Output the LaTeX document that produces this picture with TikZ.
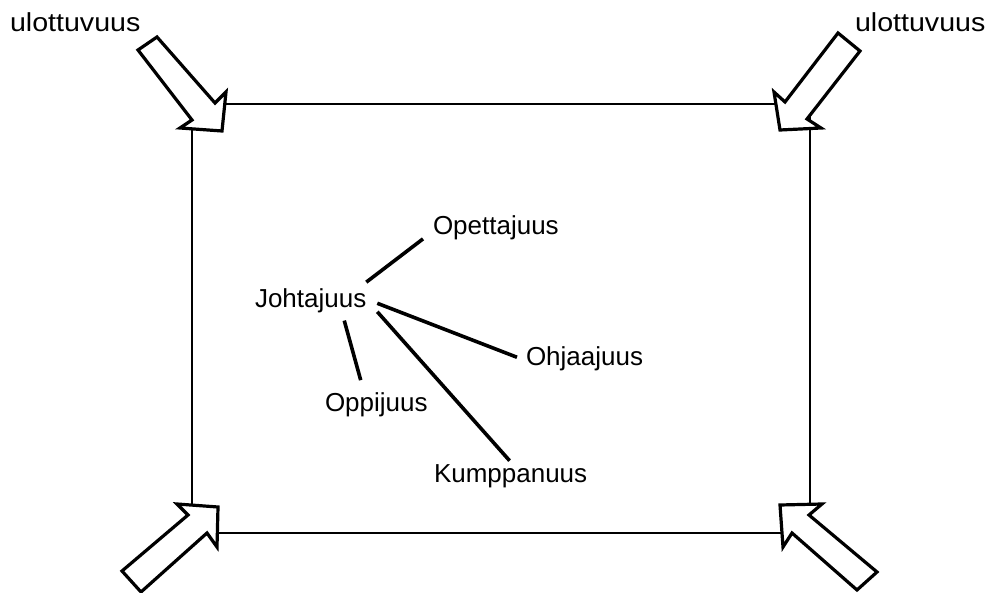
\documentclass[tikz,border=0pt]{standalone}
\usepackage{fontspec}
\setmainfont{Liberation Sans}
\tikzset{
  lbl/.style={inner sep=0pt, outer sep=0pt, anchor=base west, font=\fontsize{26}{30}\selectfont},
  frame/.style={draw=black, line width=2.2pt},
  bigarrow/.style={draw=black, fill=white, line width=3.2pt, line join=miter, miter limit=10},
  link/.style={draw=black, line width=3.6pt}
}
\begin{document}
\begin{tikzpicture}[x=1pt, y=-1pt]
\useasboundingbox (0,0) rectangle (988,593);
\fill[white] (0,0) rectangle (988,593);
% frame
\draw[frame] (192,104) rectangle (810,533);
% corner arrows
\draw[bigarrow] (138,50) -- (157,37) -- (215,103) -- (226,92) -- (222,131) -- (180,128) -- (192,120) -- cycle;
\draw[bigarrow] (838,33) -- (860,51) -- (807,119) -- (821,128) -- (780,130) -- (774,92) -- (785,102) -- cycle;
\draw[bigarrow] (122,571) -- (188,515) -- (177,504) -- (218,507) -- (217,547) -- (207,533) -- (141,592) -- cycle;
\draw[bigarrow] (877,572) -- (809,515) -- (822,504) -- (780,505) -- (783,547) -- (792,533) -- (857,590) -- cycle;
% labels
\node[lbl] (ul1) at (10,32) {\scalebox{1.1}[1]{ulottuvuus}};
\node[lbl] (ul2) at (855,32) {\scalebox{1.1}[1]{ulottuvuus}};
\node[lbl] (joh) at (255,308) {Johtajuus};
\node[lbl] (opet) at (433,235) {Opettajuus};
\node[lbl] (ohj) at (526,366) {Ohjaajuus};
\node[lbl] (opp) at (325,412) {Oppijuus};
\node[lbl] (kum) at (434,482) {Kumppanuus};
% connectors
\draw[link] ([shift={(0,-7)}]joh.north east) -- ([shift={(-10,-1.5)}]opet.south west);
\draw[link] ([shift={(11,2)}]joh.east) -- ([shift={(-9,-2)}]ohj.west);
\draw[link] ([shift={(11,10.5)}]joh.east) -- ([shift={(-1,-3.4)}]kum.north);
\draw[link] ([shift={(33.6,7.2)}]joh.south) -- ([shift={(-15.6,-13)}]opp.north);
\end{tikzpicture}
\end{document}
